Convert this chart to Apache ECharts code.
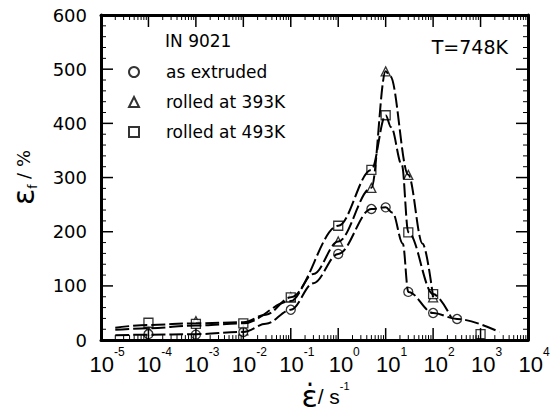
<!DOCTYPE html>
<html lang="en">
<head>
<meta charset="UTF-8">
<title>IN 9021 elongation vs strain rate</title>
<script src="https://cdn.jsdelivr.net/npm/echarts@6.0.0/dist/echarts.min.js"></script>
<style>
    html, body { margin: 0; padding: 0; background: #fff; }
    #chartmain { width: 553px; height: 416px; }
</style>
</head>
<body>
<div id="chartmain"></div>
<script>
// measured points
var circleRates = [1e-4, 1e-3, 1e-2, 0.1, 1, 5, 10, 30, 100, 320];
var circleVals  = [11, 10, 15, 56, 159, 242, 245, 89, 50, 39];

var triRates = [1e-4, 1e-3, 1e-2, 0.1, 1, 5, 10, 30, 100];
var triVals  = [17, 35, 18, 79, 182, 281, 496, 305, 79];

var sqRates = [1e-4, 1e-3, 1e-2, 0.1, 1, 5, 10, 30, 100, 1000];
var sqVals  = [32, 30, 31, 79, 211, 314, 415, 199, 85, 11];

// dashed guide curves
var circleCurveRates = [2e-5, 1e-4, 1e-3, 1e-2, 0.03, 0.1, 0.3, 1, 5, 10, 14, 23, 30, 100, 320, 2500];
var circleCurveVals  = [9, 10, 11, 15, 30, 56, 105, 159, 242, 245, 235, 178, 89, 50, 39, 15];

var triCurveRates = [2e-5, 1e-4, 1e-3, 1e-2, 0.1, 0.3, 1, 5, 10, 12.5, 30, 60, 100];
var triCurveVals  = [19, 22, 27, 31, 72, 122, 182, 281, 496, 487, 305, 178, 79];

var sqCurveRates = [2e-5, 1e-4, 1e-3, 1e-2, 0.03, 0.1, 1, 5, 10, 13, 22, 30, 100, 240];
var sqCurveVals  = [23, 28, 31, 33, 47, 79, 211, 314, 415, 393, 323, 199, 85, 42];

var seriesNames = ['as extruded', 'rolled at 393K', 'rolled at 493K'];

// tick values (long = decades / hundreds, short = minor)
var xMajorTicks = [];
var xMinorTicks = [];
for (var n = -5; n <= 4; n++) {
    xMajorTicks.push(Math.pow(10, n));
    if (n < 4) {
        for (var k = 2; k <= 9; k++) xMinorTicks.push(k * Math.pow(10, n));
    }
}
var yMajorTicks = [0, 100, 200, 300, 400, 500, 600];
var yMinorTicks = [];
for (var m = 20; m < 600; m += 20) {
    if (m % 100 !== 0) yMinorTicks.push(m);
}

function pairs(rates, vals) {
    var out = [];
    for (var i = 0; i < rates.length; i++) out.push([rates[i], vals[i]]);
    return out;
}

function curveSeries(name, rates, vals) {
    return {
        name: name,
        type: 'line',
        smooth: 0.35,
        smoothMonotone: 'x',
        symbol: 'none',
        data: pairs(rates, vals),
        lineStyle: { color: '#000', width: 2, type: [14, 4] }
    };
}

function pointSeries(name, symbol, rates, vals) {
    return {
        name: name,
        type: 'scatter',
        symbol: symbol,
        symbolSize: 9,
        data: pairs(rates, vals),
        itemStyle: { color: '#fff', borderColor: '#000', borderWidth: 1.3 }
    };
}

// inward ticks on all four sides, placed with the axes' own coord()
function tickLine(x1, y1, x2, y2, w) {
    return { type: 'line', shape: { x1: x1, y1: y1, x2: x2, y2: y2 }, style: { stroke: '#000', lineWidth: w } };
}

function xTickSeries(values, len) {
    return {
        type: 'custom',
        silent: true,
        z: 10,
        data: values.map(function (v) { return [v, 0]; }),
        renderItem: function (params, api) {
            var b = api.coord([api.value(0), 0]);
            var t = api.coord([api.value(0), 600]);
            var w = len > 8 ? 1.5 : 1;
            return { type: 'group', children: [
                tickLine(b[0], b[1], b[0], b[1] - len, w),
                tickLine(t[0], t[1], t[0], t[1] + len, w)
            ] };
        }
    };
}

function yTickSeries(values, len) {
    return {
        type: 'custom',
        silent: true,
        z: 10,
        data: values.map(function (v) { return [1e-5, v]; }),
        renderItem: function (params, api) {
            var l = api.coord([1e-5, api.value(1)]);
            var r = api.coord([1e4, api.value(1)]);
            var w = len > 8 ? 1.5 : 1;
            return { type: 'group', children: [
                tickLine(l[0], l[1], l[0] + len, l[1], w),
                tickLine(r[0], r[1], r[0] - len, r[1], w)
            ] };
        }
    };
}

var axisLine = { show: true, onZero: false, lineStyle: { color: '#000', width: 3 } };

var option = {
    animation: false,
    backgroundColor: '#fff',
    grid: { left: 97, right: 25, top: 15, bottom: 67 },
    xAxis: [
        {
            type: 'log',
            min: 1e-5,
            max: 1e4,
            position: 'bottom',
            axisLine: axisLine,
            axisTick: { show: false },
            axisLabel: {
                margin: 6,
                formatter: function (v) {
                    return '{b|10}{s|' + Math.round(Math.log10(v)) + '}';
                },
                rich: {
                    b: { fontFamily: 'Liberation Sans', fontSize: 22, lineHeight: 36, color: '#000', padding: [0, 0, 0, 12] },
                    s: { fontFamily: 'Liberation Sans', fontSize: 12, lineHeight: 12, verticalAlign: 'top', color: '#000' }
                }
            },
            splitLine: { show: false },
            name: '{e|\u03b5\u0307}{t|/ s}{s|-1}',
            nameLocation: 'middle',
            nameGap: 29,
            nameTextStyle: {
                padding: [0, 0, 0, 22],
                rich: {
                    e: { fontFamily: 'DejaVu Sans', fontSize: 30, color: '#000', lineHeight: 32 },
                    t: { fontFamily: 'Liberation Sans', fontSize: 21, color: '#000', lineHeight: 32 },
                    s: { fontFamily: 'Liberation Sans', fontSize: 11, color: '#000', lineHeight: 18, verticalAlign: 'top' }
                }
            }
        },
        {
            type: 'log',
            min: 1e-5,
            max: 1e4,
            position: 'top',
            axisLine: axisLine,
            axisTick: { show: false },
            axisLabel: { show: false },
            splitLine: { show: false }
        }
    ],
    yAxis: [
        {
            type: 'value',
            min: 0,
            max: 600,
            interval: 100,
            position: 'left',
            axisLine: axisLine,
            axisTick: { show: false },
            axisLabel: { margin: 14, fontFamily: 'DejaVu Sans', fontSize: 18, color: '#000' },
            splitLine: { show: false },
            name: '{e|\u03b5}{f|f}{t| / %}',
            nameLocation: 'middle',
            nameGap: 62,
            nameRotate: 90,
            nameTextStyle: {
                rich: {
                    e: { fontFamily: 'DejaVu Sans', fontSize: 30, color: '#000', lineHeight: 32 },
                    f: { fontFamily: 'DejaVu Sans', fontSize: 12, color: '#000', verticalAlign: 'bottom', lineHeight: 24 },
                    t: { fontFamily: 'DejaVu Sans', fontSize: 18, color: '#000', lineHeight: 32 }
                }
            }
        },
        {
            type: 'value',
            min: 0,
            max: 600,
            interval: 100,
            position: 'right',
            axisLine: axisLine,
            axisTick: { show: false },
            axisLabel: { show: false },
            splitLine: { show: false }
        }
    ],
    legend: {
        data: seriesNames,
        orient: 'vertical',
        left: 128,
        top: 62,
        padding: 0,
        itemWidth: 10,
        itemHeight: 10,
        itemGap: 10,
        textStyle: { fontFamily: 'DejaVu Sans', fontSize: 17, lineHeight: 20, color: '#000', padding: [0, 0, 0, 22] }
    },
    graphic: [
        { type: 'text', left: 165, top: 32,
          style: { text: 'IN 9021', fontFamily: 'DejaVu Sans', fontSize: 17, fill: '#000' } },
        { type: 'text', right: 45, top: 37,
          style: { text: 'T=748K', fontFamily: 'DejaVu Sans', fontSize: 19, fill: '#000' } }
    ],
    series: [
        curveSeries('curve circle', circleCurveRates, circleCurveVals),
        curveSeries('curve triangle', triCurveRates, triCurveVals),
        curveSeries('curve square', sqCurveRates, sqCurveVals),
        pointSeries(seriesNames[1], 'triangle', triRates, triVals),
        pointSeries(seriesNames[0], 'circle', circleRates, circleVals),
        pointSeries(seriesNames[2], 'rect', sqRates, sqVals),
        xTickSeries(xMajorTicks, 12),
        xTickSeries(xMinorTicks, 5),
        yTickSeries(yMajorTicks, 12),
        yTickSeries(yMinorTicks, 5)
    ]
};

var myChart = echarts.init(document.getElementById('chartmain'), null, { renderer: 'svg' });
myChart.setOption(option);
</script>
</body>
</html>
